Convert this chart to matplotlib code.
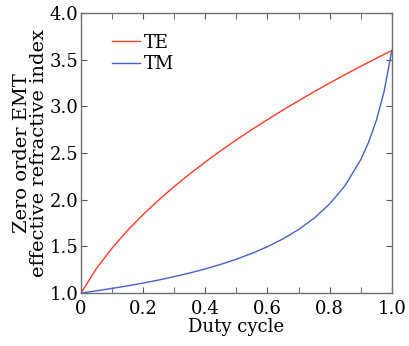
import numpy as np
import matplotlib
matplotlib.use("Agg")
import matplotlib.pyplot as plt

# duty cycle samples and zero-order EMT effective indices (n_Si = 3.6, n_air = 1)
duty = [0.0, 0.05, 0.1, 0.15, 0.2, 0.25, 0.3, 0.35, 0.4, 0.45, 0.5,
        0.55, 0.6, 0.65, 0.7, 0.75, 0.8, 0.85, 0.9, 0.925, 0.95, 0.975, 1.0]
n_te = [1.000, 1.264, 1.482, 1.672, 1.842, 1.997, 2.142, 2.277, 2.405, 2.526, 2.642,
        2.753, 2.859, 2.962, 3.061, 3.158, 3.251, 3.342, 3.430, 3.473, 3.516, 3.558, 3.600]
n_tm = [1.000, 1.024, 1.050, 1.077, 1.107, 1.140, 1.176, 1.215, 1.259, 1.308, 1.363,
        1.425, 1.497, 1.581, 1.681, 1.802, 1.955, 2.154, 2.429, 2.614, 2.848, 3.159, 3.600]

plt.rcParams["font.family"] = ["DejaVu Serif"]
plt.rcParams["mathtext.fontset"] = "dejavuserif"

fig = plt.figure(figsize=(4.09, 3.46), dpi=100)
ax = fig.add_axes([0.198, 0.153, 0.760, 0.809])

ax.plot(duty, n_te, color="#ff3a2a", lw=1.0, label="TE")
ax.plot(duty, n_tm, color="#4a5fc4", lw=1.0, label="TM")

ax.set_xlim(0, 1.0)
ax.set_ylim(1.0, 4.0)
ax.set_xticks([0, 0.2, 0.4, 0.6, 0.8, 1.0])
ax.set_xticklabels(["0", "0.2", "0.4", "0.6", "0.8", "1.0"])
ax.set_xticks(np.arange(0.1, 1.0, 0.2), minor=True)
ax.set_yticks(np.arange(1.0, 4.01, 0.5))
ax.tick_params(which="both", direction="in", top=True, right=True,
               labelsize=13, pad=2, color="#555555", length=4)
ax.tick_params(axis="x", pad=5)
for s in ax.spines.values():
    s.set_color("#707070")
    s.set_linewidth(1.0)

ax.set_xlabel("Duty cycle", fontsize=13, labelpad=0)
ax.set_ylabel("Zero order EMT\neffective refractive index", fontsize=14,
              labelpad=1, linespacing=0.95)

ax.legend(loc="upper left", bbox_to_anchor=(0.065, 0.965), frameon=False,
          fontsize=13, handlelength=1.55, handletextpad=0.2, labelspacing=0.2,
          borderaxespad=0.2)

fig.savefig("out.png", dpi=100)
